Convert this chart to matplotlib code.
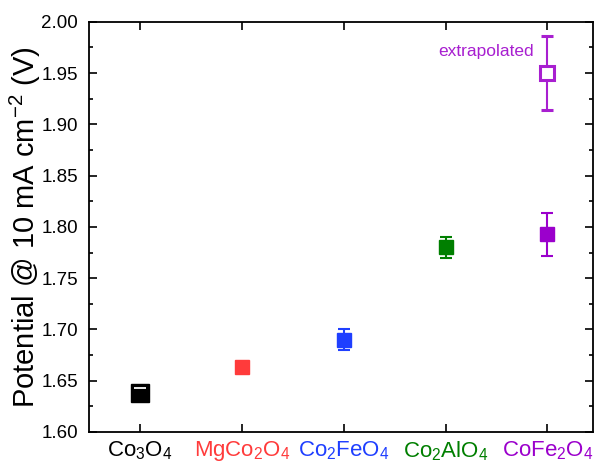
import numpy as np
import matplotlib
matplotlib.use("Agg")
import matplotlib.pyplot as plt

plt.rcParams['font.family'] = ['Liberation Sans', 'DejaVu Sans']
plt.rcParams['mathtext.fontset'] = 'custom'
plt.rcParams['mathtext.rm'] = 'Liberation Sans'
plt.rcParams['mathtext.it'] = 'Liberation Sans:italic'
plt.rcParams['mathtext.bf'] = 'Liberation Sans:bold'

# data
labels = [r'Co$_3$O$_4$', r'MgCo$_2$O$_4$', r'Co$_2$FeO$_4$', r'Co$_2$AlO$_4$', r'CoFe$_2$O$_4$']
potential = [1.638, 1.663, 1.690, 1.780, 1.793]
err = [0.005, 0.003, 0.010, 0.010, 0.021]
colors = ['#000000', '#FF3B3B', '#1F3FFF', '#007F00', '#9B00CC']
msizes = [13.5, 10.5, 10.5, 10.5, 10.5]
extrap_val = 1.950
extrap_err = 0.036
extrap_color = '#A81FD0'

x = np.arange(1, len(labels) + 1)

fig = plt.figure(figsize=(5.98, 4.63), dpi=100)
ax = fig.add_axes([0.149, 0.067, 0.843, 0.886])

for xi, yi, ei, c, ms in zip(x, potential, err, colors, msizes):
    ax.errorbar(xi, yi, yerr=ei, fmt='s', color=c, ecolor=c, markersize=ms,
                capsize=4, elinewidth=1.5, capthick=1.5)
# upper cap of Co3O4 shows as a white line inside the big black marker
ax.hlines(potential[0] + err[0], x[0] - 0.055, x[0] + 0.055, color='white',
          linewidth=1.3, zorder=5)

ax.errorbar(x[-1], extrap_val, yerr=extrap_err, fmt='s', color=extrap_color,
            mfc='white', mec=extrap_color, mew=2.2, markersize=10,
            ecolor=extrap_color, capsize=4, elinewidth=1.5, capthick=1.5)
ax.text(x[-1] - 0.13, extrap_val + 0.021, 'extrapolated', color=extrap_color,
        fontsize=12.5, ha='right', va='center')

ax.set_xlim(0.5, 5.45)
ax.set_ylim(1.60, 2.00)
ax.set_xticks(x)
ax.set_xticklabels(labels, fontsize=16)
for lab, c in zip(ax.get_xticklabels(), colors):
    lab.set_color(c)
ax.set_yticks(np.arange(1.60, 2.001, 0.05))
ax.set_yticks(np.arange(1.60, 2.001, 0.025), minor=True)
ax.yaxis.set_major_formatter(matplotlib.ticker.FormatStrFormatter('%.2f'))
ax.tick_params(axis='y', labelsize=13.5, pad=8)
ax.tick_params(which='both', direction='in', top=True, right=True, width=1.2)
ax.tick_params(which='major', length=6)
ax.tick_params(which='minor', length=3)
ax.tick_params(axis='x', pad=5)
for s in ax.spines.values():
    s.set_linewidth(1.3)

ax.set_ylabel(r'Potential @ 10 mA cm$^{-2}$ (V)', fontsize=21, labelpad=-1)

fig.savefig('out.png', dpi=100)
